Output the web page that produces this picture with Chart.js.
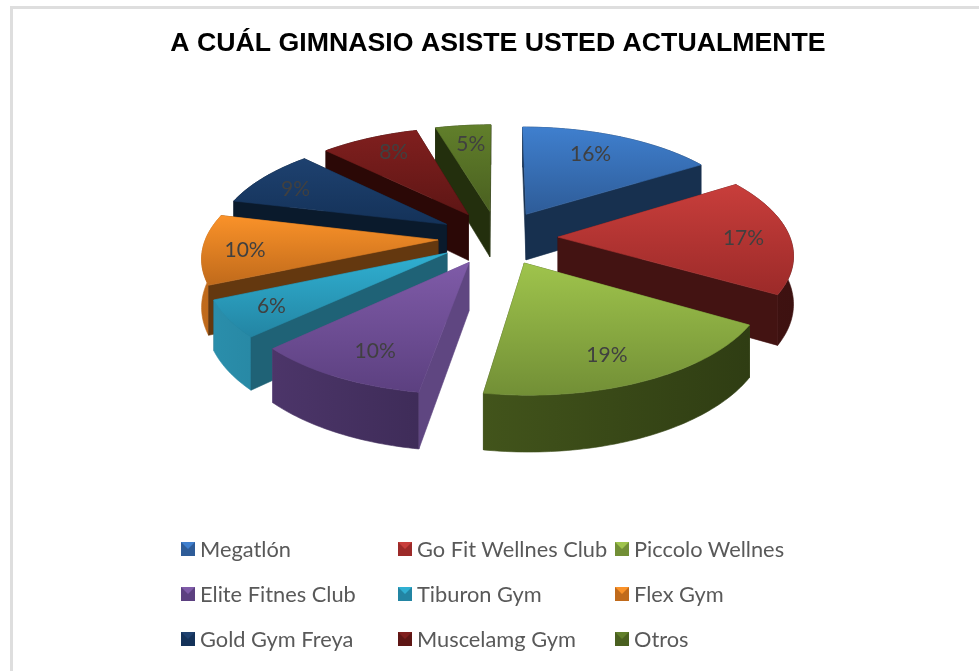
<!DOCTYPE html>
<html>
<head>
<meta charset="utf-8">
<script src="https://cdn.jsdelivr.net/npm/chart.js@4"></script>
<style>
    html, body { margin: 0; padding: 0; width: 979px; height: 671px; overflow: hidden; background: #fff; }
    #frame { position: absolute; left: 10px; top: 6px; width: 1000px; height: 700px; border: 3px solid #dedede; box-sizing: border-box; }
    #chart { position: absolute; left: 13px; top: 9px; }
    #legend {
        position: absolute; left: 181px; top: 526px;
        display: grid; grid-template-columns: 217px 217px 217px; grid-auto-rows: 45px;
        font-family: Lato, sans-serif; font-size: 21.8px; color: #595959;
    }
    .item { display: flex; align-items: center; white-space: nowrap; }
    .mark { width: 0; height: 0; border-style: solid; border-width: 7px; margin-right: 5px; }
</style>
</head>
<body>
<div id="frame"></div>
<canvas id="chart" width="970" height="662"></canvas>
<div id="legend"></div>
<script>
const categories = ['Megatlón', 'Go Fit Wellnes Club', 'Piccolo Wellnes', 'Elite Fitnes Club', 'Tiburon Gym', 'Flex Gym', 'Gold Gym Freya', 'Muscelamg Gym', 'Otros'];
// the labels show these rounded
const percentages = [16, 17.49, 19.1, 10.32, 5.5, 10.4, 8.7, 8, 4.5];

const topLight = ['#3f7fce', '#c83e3b', '#9fc44c', '#7f5ba8', '#30b0d2', '#fa9229', '#1e416f', '#801f1e', '#617f2b'];
const topDark = ['#2e5c98', '#9c2a29', '#728f36', '#5c4080', '#2385a3', '#c06a1b', '#143259', '#5e1615', '#4a6020'];
const radialWall = ['#17304f', '#431312', '#3a4a17', '#5f4681', '#1f6276', '#64380f', '#0a1a2c', '#2b0806', '#232f0d'];
const arcWallLeft = ['#17304f', '#4f1a18', '#42541b', '#4c3569', '#2a8eab', '#c06a1b', '#0a1a2c', '#2b0806', '#232f0d'];
const arcWallRight = ['#17304f', '#3d1110', '#2f3d13', '#3a2953', '#1e6e87', '#8a4c12', '#0a1a2c', '#2b0806', '#232f0d'];
// small tweaks so the percent labels land where the reference has them
const labelNudge = [[-5, -2], [19, 2], [-1, 11], [-2, 10], [-22, 7], [-24, 4], [-17, -1], [-1, -6], [1, -3]];

const TILT = 0.455;      // flattening of the pie plane
const VIEW_DIST = 1650;  // perspective distance
const DEPTH = 47;        // height of the slices

function project(arc, u, v, h) {
    const s = 1 / (1 - v / VIEW_DIST);
    return { x: arc.x + u * s, y: arc.y + TILT * v * s + h * s };
}

function slicePoints(arc, h) {
    const start = arc.startAngle + Math.PI / 2;
    const end = arc.endAngle + Math.PI / 2;
    const mid = (start + end) / 2;
    const off = arc.options.offset;
    const ou = Math.sin(mid) * off;
    const ov = -Math.cos(mid) * off;
    const R = arc.outerRadius;
    const pts = [project(arc, ou, ov, h)];
    const steps = Math.ceil((end - start) / 0.02);
    for (let i = 0; i <= steps; i++) {
        const t = start + (end - start) * i / steps;
        pts.push(project(arc, ou + Math.sin(t) * R, ov - Math.cos(t) * R, h));
    }
    return pts;
}

function fillPoly(ctx, pts, style) {
    ctx.beginPath();
    pts.forEach((p, i) => i ? ctx.lineTo(p.x, p.y) : ctx.moveTo(p.x, p.y));
    ctx.closePath();
    ctx.fillStyle = style;
    ctx.strokeStyle = style;
    ctx.lineWidth = 0.6;
    ctx.fill();
    ctx.stroke();
}

function drawSlice(ctx, arc, i) {
    const top = slicePoints(arc, 0);
    const bottom = slicePoints(arc, DEPTH);
    const xs = top.map(p => p.x);
    const ys = top.map(p => p.y);
    const last = top.length - 1;
    const start = arc.startAngle + Math.PI / 2;
    const end = arc.endAngle + Math.PI / 2;

    const wallGrad = ctx.createLinearGradient(Math.min(...xs), 0, Math.max(...xs), 0);
    wallGrad.addColorStop(0, arcWallLeft[i]);
    wallGrad.addColorStop(1, arcWallRight[i]);

    const startWall = [top[0], top[1], bottom[1], bottom[0]];
    const endWall = [top[0], top[last], bottom[last], bottom[0]];
    const arcWall = top.slice(1).concat(bottom.slice(1).reverse());

    // outward normals: start wall faces start - 90deg, end wall faces end + 90deg
    const startFront = -Math.cos(start - Math.PI / 2) > 0;
    const endFront = -Math.cos(end + Math.PI / 2) > 0;

    if (!startFront) fillPoly(ctx, startWall, radialWall[i]);
    if (!endFront) fillPoly(ctx, endWall, radialWall[i]);
    fillPoly(ctx, arcWall, wallGrad);
    if (startFront) fillPoly(ctx, startWall, radialWall[i]);
    if (endFront) fillPoly(ctx, endWall, radialWall[i]);

    const faceGrad = ctx.createLinearGradient(0, Math.min(...ys), 0, Math.max(...ys));
    faceGrad.addColorStop(0, topLight[i]);
    faceGrad.addColorStop(1, topDark[i]);
    fillPoly(ctx, top, faceGrad);
}

function drawLabel(ctx, arc, i) {
    const mid = (arc.startAngle + arc.endAngle) / 2 + Math.PI / 2;
    const r = arc.options.offset + arc.outerRadius * 0.72;
    const p = project(arc, Math.sin(mid) * r, -Math.cos(mid) * r, 0);
    ctx.font = '21px Lato, sans-serif';
    ctx.fillStyle = '#404040';
    ctx.textAlign = 'center';
    ctx.textBaseline = 'middle';
    ctx.fillText(Math.round(percentages[i]) + '%', p.x + labelNudge[i][0], p.y + labelNudge[i][1]);
}

const pie3d = {
    id: 'pie3d',
    beforeDatasetsDraw(chart) {
        const ctx = chart.ctx;
        const arcs = chart.getDatasetMeta(0).data;
        const order = arcs.map((arc, i) => i).sort((a, b) => {
            const ma = (arcs[a].startAngle + arcs[a].endAngle) / 2 + Math.PI / 2;
            const mb = (arcs[b].startAngle + arcs[b].endAngle) / 2 + Math.PI / 2;
            return Math.cos(mb) - Math.cos(ma);
        });
        ctx.save();
        order.forEach(i => drawSlice(ctx, arcs[i], i));
        arcs.forEach((arc, i) => drawLabel(ctx, arc, i));
        ctx.restore();
        return false;
    }
};

new Chart(document.getElementById('chart').getContext('2d'), {
    type: 'pie',
    data: {
        labels: categories,
        datasets: [{
            data: percentages,
            backgroundColor: topLight,
            borderWidth: 0,
            offset: 60
        }]
    },
    options: {
        responsive: false,
        animation: false,
        radius: 232,
        layout: { padding: { bottom: 270 } },
        plugins: {
            legend: { display: false },
            tooltip: { enabled: false },
            title: {
                display: true,
                text: 'A CUÁL GIMNASIO ASISTE USTED ACTUALMENTE',
                color: '#000000',
                font: { family: '"Liberation Sans", Arial, sans-serif', size: 26.7, weight: 'bold' },
                padding: { top: 19, bottom: 14 }
            }
        }
    },
    plugins: [pie3d]
});

const legendBox = document.getElementById('legend');
categories.forEach((name, i) => {
    const item = document.createElement('div');
    item.className = 'item';
    const mark = document.createElement('span');
    mark.className = 'mark';
    mark.style.borderColor = `${topLight[i]} ${topDark[i]} ${topDark[i]} ${topDark[i]}`;
    item.appendChild(mark);
    item.appendChild(document.createTextNode(name));
    legendBox.appendChild(item);
});
</script>
</body>
</html>
